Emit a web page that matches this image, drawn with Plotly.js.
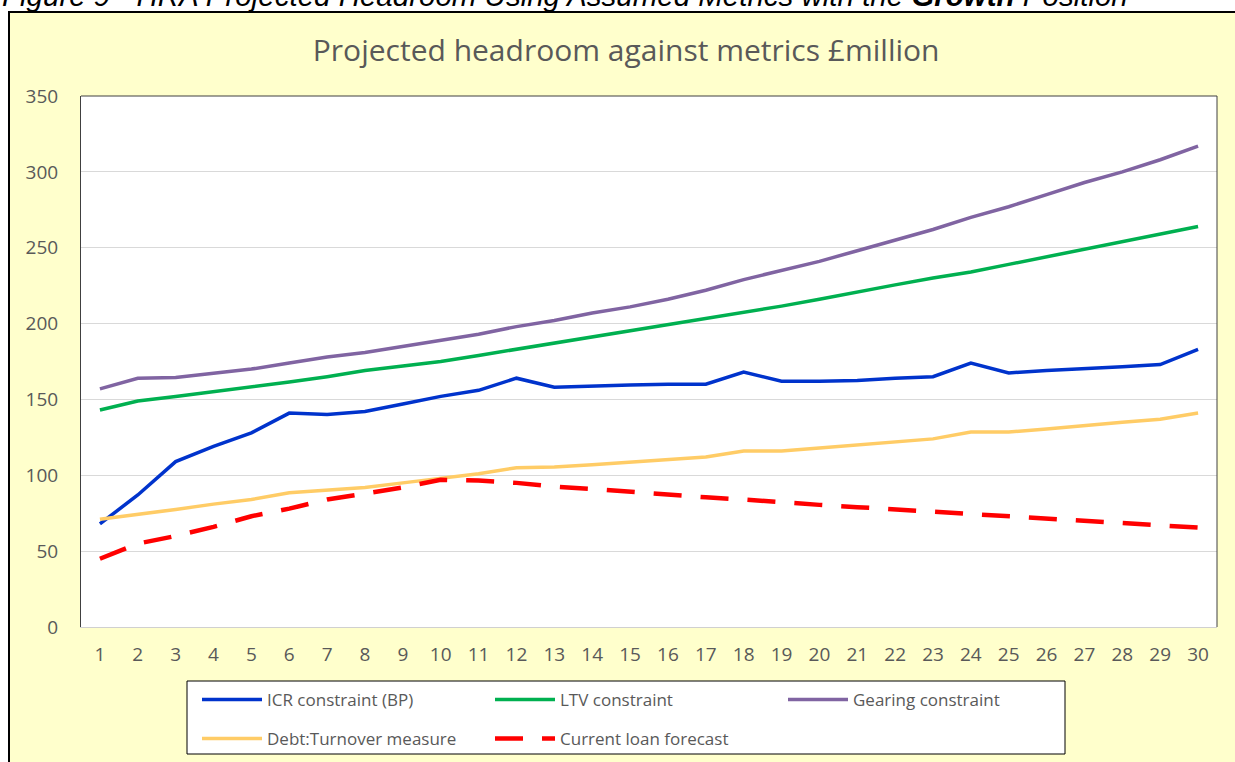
<!DOCTYPE html>
<html>
<head>
<meta charset="utf-8">
<script src="https://cdn.plot.ly/plotly-3.0.1.min.js"></script>
<style>html,body{margin:0;padding:0;background:#fff;}#chart{width:1235px;height:762px;}</style>
</head>
<body>
<div id="chart"></div>
<script>
const years = [1,2,3,4,5,6,7,8,9,10,11,12,13,14,15,16,17,18,19,20,21,22,23,24,25,26,27,28,29,30];
const icrConstraint = [68,87,109,119,128,141,140,142,147,152,156,164,158,159,159.5,160,160,168,162,162,162.5,164,165,174,167.5,169,170,171.5,173,183];
const ltvConstraint = [143,149,152,155,158,161.5,165,169,172,175,179,183,187,191,195,199,203.5,207,211.5,216,221,225.5,230,234,239,244,249,254,259,264];
const gearingConstraint = [157,164,164.5,167,170,174,178,181,185,189,193,198,202,207,211,216,222,229,235,241,248,255,262,270,277,285,293,300,308,317];
const debtTurnover = [71,74,77.5,81,84,88.5,90,92,95,98,101,105,105.5,107,108.5,110.5,112,116,116,118,120,122,124,128.5,128.5,130.5,133,135,137,141];
const loanForecast = [45,55,60,66,73,78,84,88,92,97,96.5,95,92.5,91,89,87,85.5,84,82,80.5,79,77.5,76,75,73,72,70.5,69,67,65.5];
const seriesNames = ["ICR constraint (BP)","LTV constraint","Gearing constraint","Debt:Turnover measure","Current loan forecast"];

const W = 1235, H = 762;
const L = 81, R = 18, T = 96, B = 135;
const PW = W - L - R, PH = H - T - B;
const px2x = p => (p - L) / PW;
const py2y = p => (H - B - p) / PH;

const font = "'Open Sans', Lato, sans-serif";
const grey = '#595959';

function tr(name, y, color, dash, width, legendId) {
  return {type:'scatter', mode:'lines', x: years, y: y, name: name, legend: legendId,
    line:{color: color, width: width, dash: dash}, hoverinfo:'x+y+name'};
}
const data = [
  tr(seriesNames[0], icrConstraint, '#0033CC', 'solid', 3.5, 'legend'),
  tr(seriesNames[1], ltvConstraint, '#00B050', 'solid', 3.5, 'legend'),
  tr(seriesNames[2], gearingConstraint, '#8064A2', 'solid', 3.5, 'legend'),
  tr(seriesNames[3], debtTurnover, '#FFCC66', 'solid', 3.5, 'legend2'),
  tr(seriesNames[4], loanForecast, '#FF0000', '28px,19px', 4.5, 'legend2')
];

const legendCommon = {orientation: 'h', x: px2x(197), xanchor: 'left', yanchor: 'middle',
  bgcolor: 'rgba(0,0,0,0)', borderwidth: 0, itemwidth: 60,
  entrywidth: 218, entrywidthmode: 'pixels', font: {size: 17, color: grey, family: font},
  traceorder: 'normal'};

const layout = {
  width: W, height: H,
  margin: {l: L, r: R, t: T, b: B, autoexpand: false},
  paper_bgcolor: '#ffffff',
  plot_bgcolor: '#ffffff',
  font: {family: font, color: grey, size: 17},
  title: {text: 'Projected headroom against metrics £million', font: {family: font, size: 30, color: grey},
    x: 0.507, xref: 'container', xanchor: 'center', y: 1 - 50/762, yref: 'container', yanchor: 'middle'},
  xaxis: {range: [0.5, 30.5], tickmode: 'array', tickvals: years, ticktext: years.map(String),
    showgrid: false, zeroline: false, showline: true, linecolor: '#d0d0d0', linewidth: 1,
    ticks: '', ticklabelstandoff: 10, tickfont: {size: 19, color: grey}, fixedrange: true},
  yaxis: {range: [0, 350], dtick: 50, showgrid: true, gridcolor: '#d9d9d9', gridwidth: 1,
    zeroline: false, showline: true, linecolor: '#404040', linewidth: 1,
    ticks: '', ticklabelstandoff: 18, tickfont: {size: 19, color: grey}, fixedrange: true},
  showlegend: true,
  legend: Object.assign({}, legendCommon, {y: py2y(700)}),
  legend2: Object.assign({}, legendCommon, {y: py2y(739)}),
  shapes: [
    {type: 'rect', xref: 'paper', yref: 'paper', layer: 'below',
     x0: px2x(9), x1: px2x(1250), y0: py2y(780), y1: py2y(12),
     fillcolor: '#FFFFCC', line: {color: '#000000', width: 2}},
    {type: 'rect', xref: 'paper', yref: 'paper', layer: 'below',
     x0: 0, x1: 1, y0: 0, y1: 1, fillcolor: '#ffffff', line: {width: 0}},
    {type: 'rect', xref: 'paper', yref: 'paper', layer: 'below',
     x0: px2x(187), x1: px2x(1065), y0: py2y(754), y1: py2y(681),
     fillcolor: '#ffffff', line: {color: '#000000', width: 1}},
    {type: 'line', xref: 'paper', yref: 'paper', x0: 0, x1: 1, y0: 1, y1: 1,
     line: {color: '#404040', width: 1}},
    {type: 'line', xref: 'paper', yref: 'paper', x0: 1, x1: 1, y0: 0, y1: 1,
     line: {color: '#404040', width: 1}}
  ],
  annotations: [
    {xref: 'paper', yref: 'paper', x: px2x(0), y: py2y(-5), xanchor: 'left', yanchor: 'middle',
     showarrow: false, align: 'left',
     text: '<i>Figure 9 - HRA Projected Headroom Using Assumed Metrics with the <b>Growth</b> Position</i>',
     font: {family: "'Liberation Sans', Arial, sans-serif", size: 29.5, color: '#000000'}}
  ]
};

Plotly.newPlot('chart', data, layout, {displayModeBar: false, responsive: false});
</script>
</body>
</html>
